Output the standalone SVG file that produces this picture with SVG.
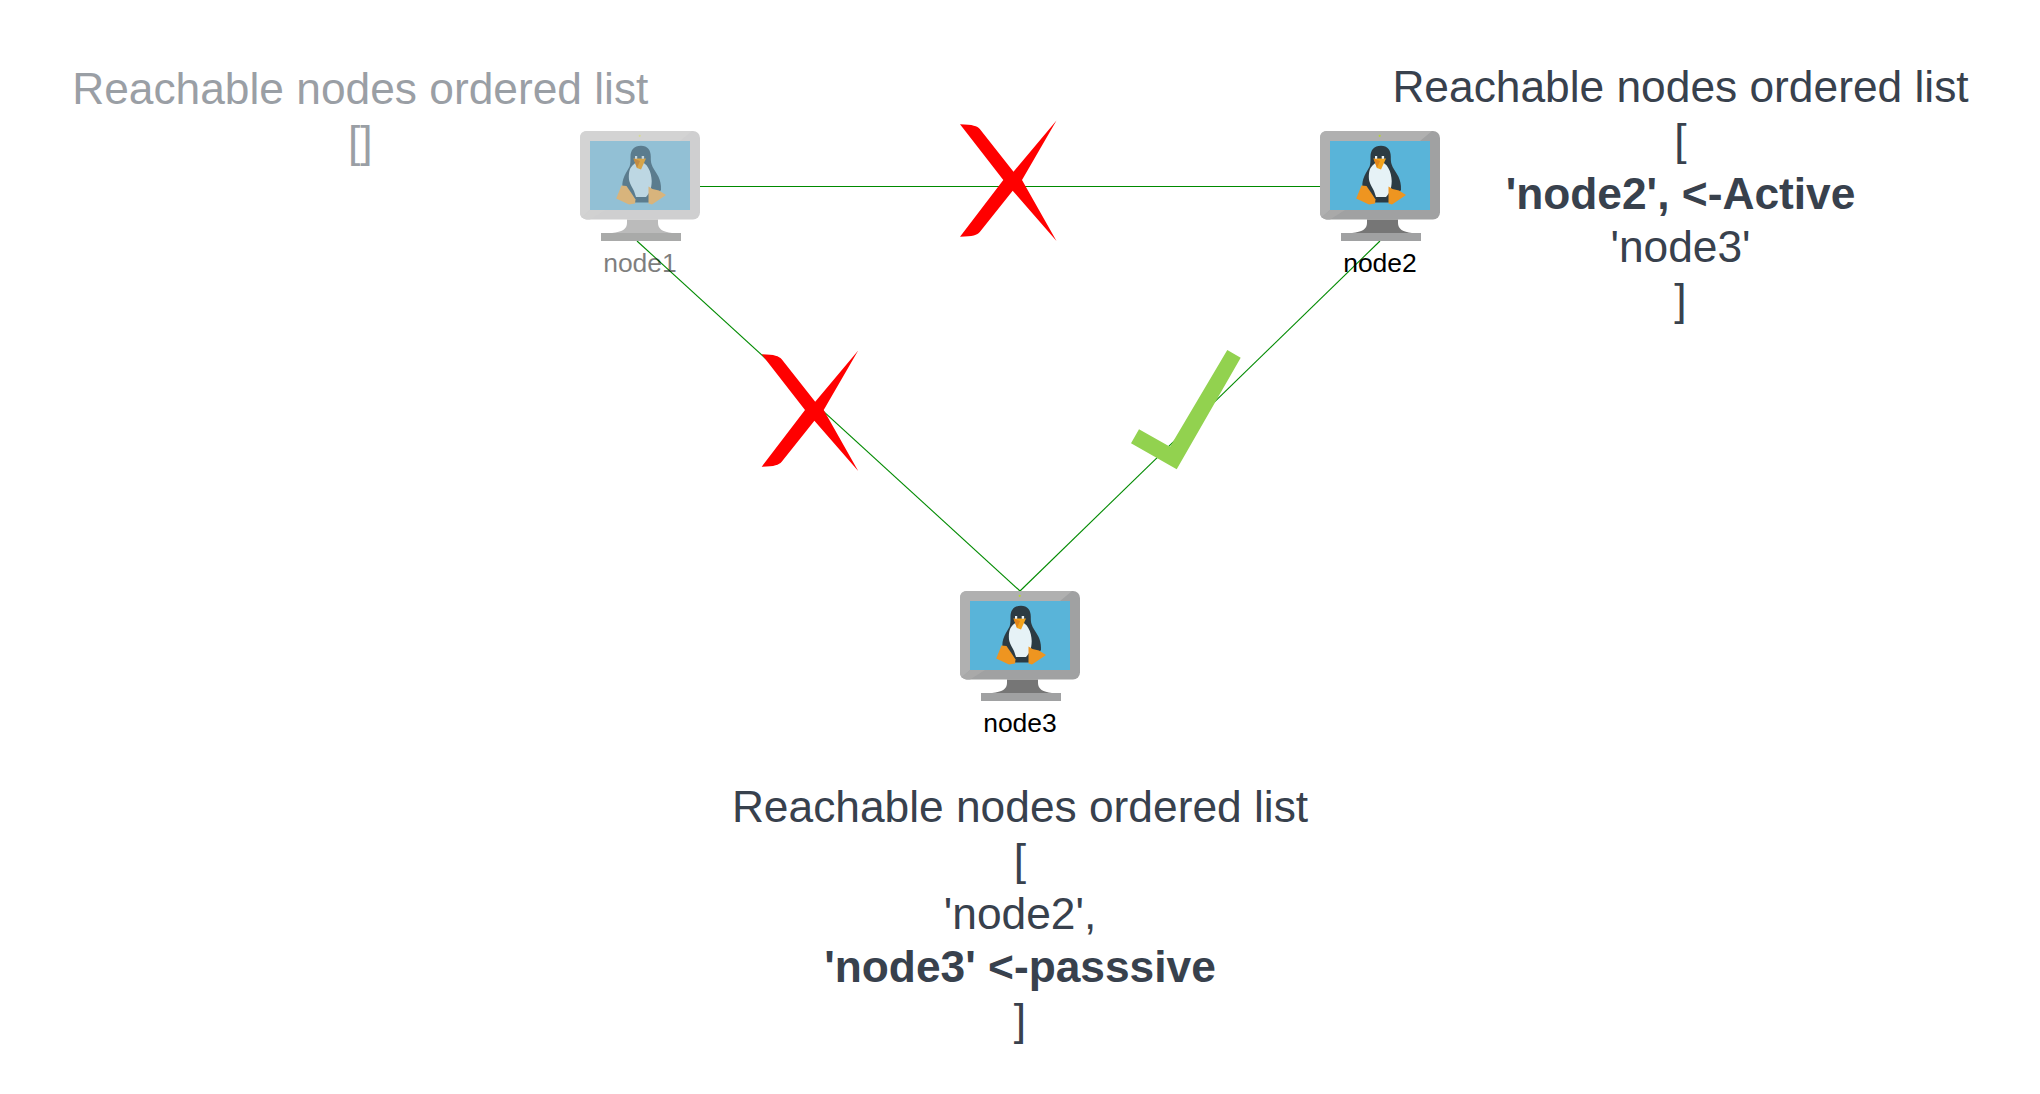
<svg xmlns="http://www.w3.org/2000/svg" xmlns:xlink="http://www.w3.org/1999/xlink" width="2040" height="1094" viewBox="0 0 2040 1094">
<style>
text{font-family:"Liberation Sans",Arial,sans-serif}
.lbl{font-size:26.5px;fill:#000;text-anchor:middle}
.t{font-size:44.3px;fill:#38414d;text-anchor:middle}
.b{font-weight:bold}
.c{fill:none;stroke:#008a00;stroke-width:1.1}
.on{--bez:#a0a1a2;--top:#b0b0b0;--tri:#a9a9a9;--scr:#59b4d9;--dot:#b8d432;--neck:#767676;--base:#a0a1a2;--dark:#2c3b43;--belly:#e6f2f6;--beak:#f2a31c;--beak2:#e0841a;--eye:#eef4f6;--foot:#ee9520}
.off{--bez:#cfcfd0;--top:#d3d3d3;--tri:#d1d1d1;--scr:#92c0d5;--dot:#d8dc90;--neck:#bbbbbb;--base:#a9aaa9;--dark:#5b7c8e;--belly:#bdd7e3;--beak:#d6a54a;--beak2:#c08a45;--eye:#c8d6dc;--foot:#d8b47c}
</style>
<defs>
<path id="cross" fill="#ff0000" d="M20,24.3C33,24.6 37,26 40,29.3L73.5,71.7L116.5,20.5L82,80L116.5,141L72.7,90.7L40,131.7C37,135 33,136.4 20,136.7L63.3,80Z"/>
<g id="vm">
<rect width="120" height="88.5" rx="7" style="fill:var(--bez)"/>
<path d="M7,0H112L100,10L10,79L1.5,86.5Q0,85 0,81V7Q0,0 7,0Z" style="fill:var(--top)"/>
<path d="M10,79H25L10,88.5H6L1.5,86.5Z" style="fill:var(--tri)"/>
<rect x="10" y="10" width="100" height="69" style="fill:var(--scr)"/>
<circle cx="59.7" cy="4.8" r="1.1" style="fill:var(--dot)"/>
<path d="M47,88.5H78V92C78,98 83,101 92,102H32C42,101 47,98 47,92Z" style="fill:var(--neck)"/>
<rect x="21" y="102" width="80" height="8" style="fill:var(--base)"/>
<path d="M61,14.7C54,14.7 50.5,19 50.5,25.7C50.5,30 50.5,33 49.5,35.7C47,40 44.5,44 43.3,48C42.3,51 42.2,54 42.5,57.3L49,71.5H70L81,59C81.3,53 80,49 78.5,45.7C76,41 72.5,37 71.5,33C70.8,30.5 70.8,28 70.8,25.7C70.8,19 67.5,14.7 61,14.7Z" style="fill:var(--dark)"/>
<path d="M60,30.7C56,31 53,33 50.5,37C48.5,41 48.6,47 49.3,50C50.5,54 52,56 54,60L56,66H66C69,63 71.7,58 71.7,50C71.7,41 67,31 60,30.7Z" style="fill:var(--belly)"/>
<path d="M53.5,27.5H66L61,38.5L57,37Z" style="fill:var(--beak)"/>
<path d="M53.5,27.5L60,30L57,37Z" style="fill:var(--beak2)"/>
<rect x="55" y="25" width="2.2" height="2.8" style="fill:var(--eye)"/>
<rect x="61.7" y="25" width="2.4" height="2.8" style="fill:var(--eye)"/>
<path d="M41.5,54.5L46.5,55L51,61.5L55.5,68.5L55,72.5L49,73.5L36.2,67.5Z" style="fill:var(--foot)"/>
<path d="M68.5,55.5L72.5,58L79,59.5L86,64L72,73.5L68.5,72.5Z" style="fill:var(--foot)"/>
</g>
</defs>
<g id="connectors">
<path class="c" d="M700,186.5H1320"/>
<path class="c" d="M637,241L1020,591"/>
<path class="c" d="M1380,241L1020,591"/>
</g>
<g id="node1" class="off"><use xlink:href="#vm" href="#vm" x="580" y="131"/><text class="lbl" x="640" y="271.5" opacity="0.5">node1</text></g>
<g id="node2" class="on"><use xlink:href="#vm" href="#vm" x="1320" y="131"/><text class="lbl" x="1380" y="271.5">node2</text></g>
<g id="node3" class="on"><use xlink:href="#vm" href="#vm" x="960" y="591"/><text class="lbl" x="1020" y="731.5">node3</text></g>
<g id="cross1"><use xlink:href="#cross" href="#cross" x="940" y="100"/></g>
<g id="cross2"><use xlink:href="#cross" href="#cross" x="741.7" y="330"/></g>
<g id="check"><path fill="#92d24f" d="M1227.3,350L1240.7,357.7L1176.7,469.3L1131,443.3L1139,429.3L1170,446.7Z"/></g>
<g id="list1" opacity="0.5"><text class="t" x="360.3" y="104">Reachable nodes ordered list</text><text class="t" x="360.3" y="157">[]</text></g>
<g id="list2"><text class="t" x="1680.5" y="102">Reachable nodes ordered list</text><text class="t" x="1680.5" y="155">[</text><text class="t b" x="1680.5" y="209">'node2', &lt;-Active</text><text class="t" x="1680.5" y="262">'node3'</text><text class="t" x="1680.5" y="315">]</text></g>
<g id="list3"><text class="t" x="1020" y="822">Reachable nodes ordered list</text><text class="t" x="1020" y="875">[</text><text class="t" x="1020" y="929">'node2',</text><text class="t b" x="1020" y="982">'node3' &lt;-passsive</text><text class="t" x="1020" y="1035">]</text></g>
</svg>
